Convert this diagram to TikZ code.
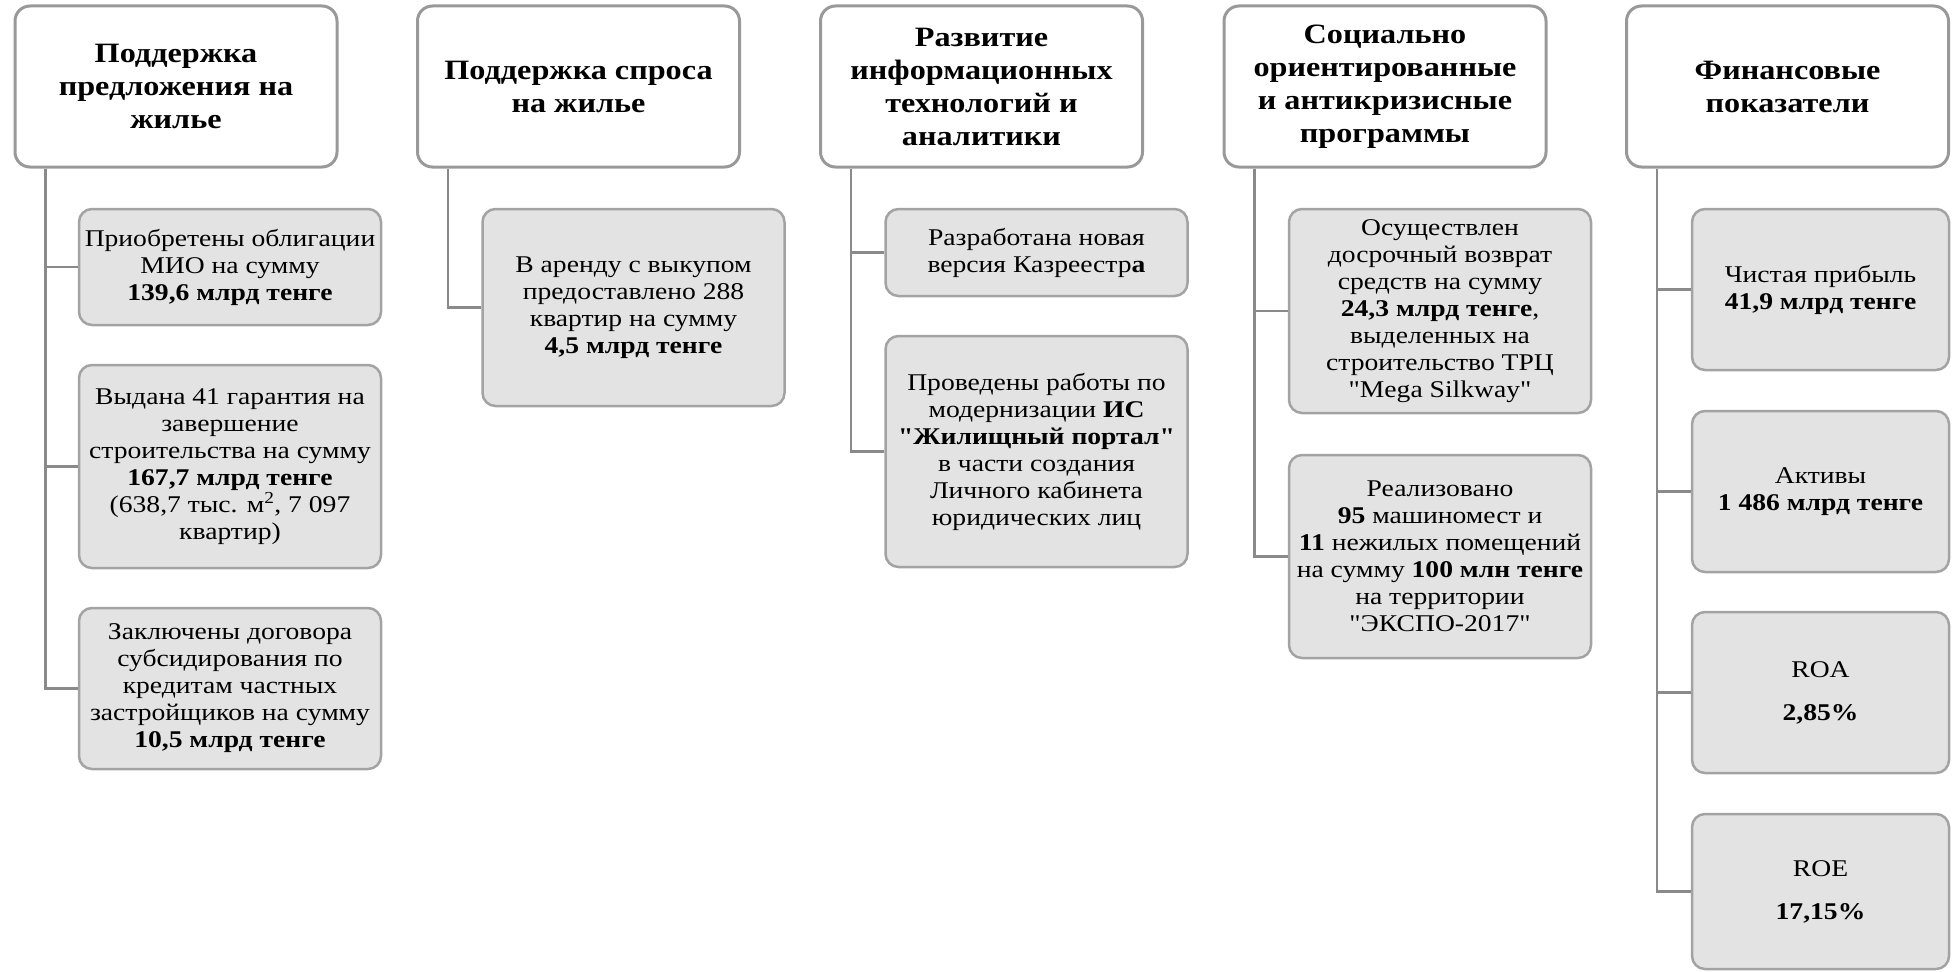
\documentclass[tikz,border=0pt]{standalone}
\usepackage{fontspec}
\setmainfont[FakeStretch=1.15]{Liberation Serif}
\newfontfamily\qfont[FakeStretch=1.15]{Liberation Serif}
\newcommand{\sq}{{\qfont\symbol{34}}}
\definecolor{hdrline}{HTML}{999999}
\definecolor{connline}{HTML}{8A8A8A}
\definecolor{itemfill}{HTML}{E3E3E3}
\definecolor{itemline}{HTML}{A3A3A3}
\tikzset{
  hdr/.style={draw=hdrline, line width=3pt, fill=white, rounded corners=15pt,
    minimum width=322pt, minimum height=161pt, inner sep=0pt, align=center,
    font=\fontsize{28}{33}\selectfont\bfseries},
  item/.style={draw=itemline, line width=2.5pt, fill=itemfill, rounded corners=13pt,
    minimum width=302pt, inner sep=0pt, align=center,
    font=\fontsize{24}{27}\selectfont},
  fin/.style={item, minimum width=257pt, minimum height=161pt},
  conn/.style={draw=connline, line width=2.5pt}
}
\begin{document}
\begin{tikzpicture}[x=1pt,y=-1pt]
\useasboundingbox (0,0) rectangle (1958,971);
% headers
\node[hdr] (h1) at (176,86.5) {Поддержка\\предложения на\\жилье};
\node[hdr] (h2) at (578.5,86.5) {Поддержка спроса\\на жилье};
\node[hdr] (h3) at (981.5,86.5) {Развитие\\информационных\\технологий и\\аналитики};
\node[hdr] (h4) at (1385,86.5) {Социально\\ориентированные\\и антикризисные\\программы};
\node[hdr] (h5) at (1787.5,86.5) {Финансовые\\показатели};
% column 1
\node[item, minimum height=116pt] (c1a) at (230,267) {Приобретены облигации\\МИО на сумму\\\textbf{139,6 млрд тенге}};
\node[item, minimum height=203pt] (c1b) at (230,466.5) {Выдана 41 гарантия на\\завершение\\строительства на сумму\\\textbf{167,7 млрд тенге}\\(638,7 тыс. м\textsuperscript{2}, 7 097\\квартир)};
\node[item, minimum height=161pt] (c1c) at (230,688.5) {Заключены договора\\субсидирования по\\кредитам частных\\застройщиков на сумму\\\textbf{10,5 млрд тенге}};
% column 2
\node[item, minimum height=197pt] (c2a) at (633.5,307.5) {В аренду с выкупом\\предоставлено 288\\квартир на сумму\\\textbf{4,5 млрд тенге}};
% column 3
\node[item, minimum height=87pt] (c3a) at (1036.5,252.5) {Разработана новая\\версия Казреестр\textbf{а}};
\node[item, minimum height=231pt] (c3b) at (1036.5,451.5) {Проведены работы по\\модернизации \textbf{ИС}\\\textbf{\sq Жилищный портал\sq}\\в части создания\\Личного кабинета\\юридических лиц};
% column 4
\node[item, minimum height=204pt] (c4a) at (1440,311) {Осуществлен\\досрочный возврат\\средств на сумму\\\textbf{24,3 млрд тенге},\\выделенных на\\строительство ТРЦ\\\sq Mega Silkway\sq};
\node[item, minimum height=203pt] (c4b) at (1440,556.5) {Реализовано\\\textbf{95} машиномест и\\\textbf{11} нежилых помещений\\на сумму \textbf{100 млн тенге}\\на территории\\\sq ЭКСПО-2017\sq};
% column 5
\node[fin] (c5a) at (1820.5,289.5) {Чистая прибыль\\\textbf{41,9 млрд тенге}};
\node[fin] (c5b) at (1820.5,491.5) {Активы\\\textbf{1 486 млрд тенге}};
\node[fin] (c5c) at (1820.5,692.5) {ROA\\[16pt]\textbf{2,85\%}};
\node[fin, minimum height=155pt] (c5d) at (1820.5,891.5) {ROE\\[16pt]\textbf{17,15\%}};
% connectors
\foreach \h/\c in {h1/c1a,h1/c1b,h1/c1c,h2/c2a,h3/c3a,h3/c3b,h4/c4a,h4/c4b,h5/c5a,h5/c5b,h5/c5c,h5/c5d}{
  \draw[conn] ([xshift=32pt]\h.south west) |- (\c.west);
}
\end{tikzpicture}
\end{document}
